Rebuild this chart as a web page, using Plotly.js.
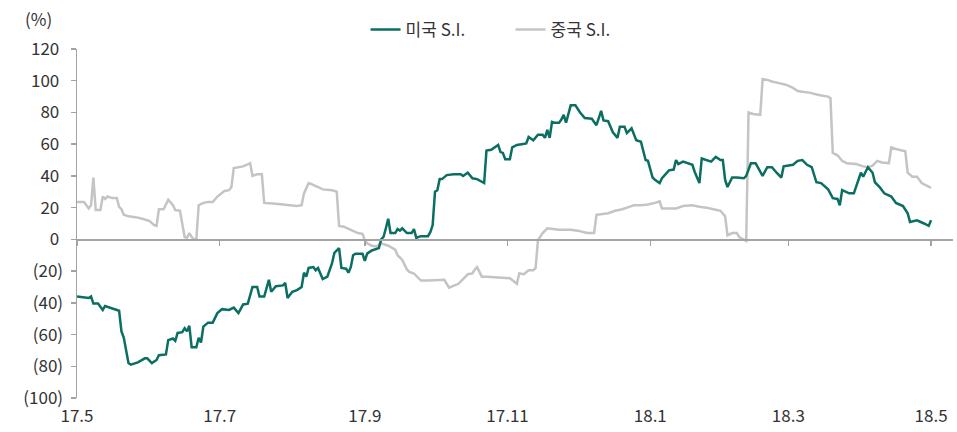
<!DOCTYPE html>
<html>
<head>
<meta charset="utf-8">
<script src="https://cdn.plot.ly/plotly-3.0.1.min.js"></script>
<style>html,body{margin:0;padding:0;background:#fff;}#chart{width:957px;height:432px;}</style>
</head>
<body>
<div id="chart"></div>
<script>
const seriesNames = ["미국 S.I.", "중국 S.I."];

const usDates = ["2017-05-01","2017-05-06","2017-05-07","2017-05-08","2017-05-10","2017-05-12","2017-05-13","2017-05-17","2017-05-19","2017-05-20","2017-05-21","2017-05-23","2017-05-24","2017-05-27","2017-05-30","2017-05-31","2017-06-02","2017-06-04","2017-06-05","2017-06-08","2017-06-09","2017-06-11","2017-06-12","2017-06-13","2017-06-15","2017-06-16","2017-06-17","2017-06-18","2017-06-19","2017-06-21","2017-06-22","2017-06-23","2017-06-24","2017-06-26","2017-06-28","2017-06-30","2017-07-02","2017-07-05","2017-07-07","2017-07-09","2017-07-11","2017-07-13","2017-07-14","2017-07-15","2017-07-17","2017-07-18","2017-07-20","2017-07-22","2017-07-23","2017-07-25","2017-07-28","2017-07-29","2017-07-30","2017-08-01","2017-08-03","2017-08-05","2017-08-06","2017-08-07","2017-08-08","2017-08-10","2017-08-11","2017-08-12","2017-08-14","2017-08-16","2017-08-18","2017-08-19","2017-08-21","2017-08-22","2017-08-24","2017-08-25","2017-08-26","2017-08-27","2017-08-28","2017-08-31","2017-09-01","2017-09-02","2017-09-04","2017-09-07","2017-09-08","2017-09-09","2017-09-10","2017-09-11","2017-09-12","2017-09-14","2017-09-15","2017-09-16","2017-09-17","2017-09-19","2017-09-21","2017-09-22","2017-09-23","2017-09-25","2017-09-28","2017-09-29","2017-09-30","2017-10-01","2017-10-02","2017-10-03","2017-10-04","2017-10-06","2017-10-09","2017-10-12","2017-10-13","2017-10-15","2017-10-17","2017-10-19","2017-10-22","2017-10-23","2017-10-25","2017-10-28","2017-10-29","2017-10-30","2017-10-31","2017-11-02","2017-11-03","2017-11-05","2017-11-07","2017-11-09","2017-11-10","2017-11-12","2017-11-14","2017-11-16","2017-11-17","2017-11-18","2017-11-19","2017-11-20","2017-11-21","2017-11-23","2017-11-24","2017-11-25","2017-11-26","2017-11-28","2017-11-30","2017-12-02","2017-12-04","2017-12-07","2017-12-09","2017-12-11","2017-12-12","2017-12-14","2017-12-16","2017-12-18","2017-12-19","2017-12-21","2017-12-22","2017-12-24","2017-12-26","2017-12-28","2017-12-30","2017-12-31","2018-01-02","2018-01-03","2018-01-05","2018-01-06","2018-01-09","2018-01-11","2018-01-12","2018-01-13","2018-01-15","2018-01-17","2018-01-19","2018-01-20","2018-01-22","2018-01-23","2018-01-25","2018-01-27","2018-01-29","2018-01-31","2018-02-01","2018-02-02","2018-02-03","2018-02-05","2018-02-07","2018-02-10","2018-02-11","2018-02-13","2018-02-15","2018-02-16","2018-02-18","2018-02-20","2018-02-22","2018-02-24","2018-02-26","2018-02-27","2018-03-03","2018-03-05","2018-03-07","2018-03-09","2018-03-11","2018-03-13","2018-03-15","2018-03-18","2018-03-20","2018-03-22","2018-03-23","2018-03-24","2018-03-27","2018-03-29","2018-03-31","2018-04-01","2018-04-02","2018-04-04","2018-04-06","2018-04-07","2018-04-09","2018-04-11","2018-04-14","2018-04-16","2018-04-19","2018-04-20","2018-04-21","2018-04-22","2018-04-25","2018-04-28","2018-04-30","2018-05-01"];
const usValues = [-36,-37,-36,-40.5,-40.5,-44.5,-42,-44,-45,-58,-62,-78,-79,-77.5,-75,-75,-78,-76,-73,-72.5,-63.5,-62.5,-64,-59,-58.5,-56,-58,-54.5,-68,-68,-62,-65,-55,-52.5,-52.5,-46.5,-44,-44.5,-43,-46.5,-41,-40.5,-36,-30,-30,-36,-36,-25.5,-33,-29.5,-29,-27.5,-37,-33,-32,-30,-21,-23.5,-18,-17.5,-19.5,-18,-25,-23.5,-15,-8.5,-5.5,-18,-18.5,-21,-17.5,-10,-9,-9,-13.5,-9,-7,-5.5,0,1.5,7,13,4,4,6.5,5.5,7,4,4,6.5,1,2,2,4.5,9,30,31,38,38,40.5,41,41,40,42,38.5,38,35.5,56,56.5,59.5,55,54.5,50.5,50.5,58,59.5,60,60.5,64.5,62.5,66,66,64,69,64,74,73.5,73.5,75.5,78.5,73.5,84.5,84.5,80,76.5,76,72,81,75,74.5,67.5,64,71,71,67,70,62.5,61.5,50,49.5,39,37.5,35.5,38.5,43.5,44,50,47.5,49,48,47,42.5,35.5,51,50,49,52,50,50,37.5,33,39,39,38.5,40,48,48,45,40,45.5,45.5,42,39,46,47,49.5,50,47,45.5,36,35.5,31.5,26,25.5,21.5,31,29,29,38,42,39.5,45.5,42,36,33,29,27,23,21,18.5,16.5,11,12,10,8.5,12];

const cnDates = ["2017-05-01","2017-05-04","2017-05-06","2017-05-07","2017-05-08","2017-05-09","2017-05-11","2017-05-12","2017-05-13","2017-05-14","2017-05-16","2017-05-18","2017-05-19","2017-05-20","2017-05-21","2017-05-23","2017-05-26","2017-05-29","2017-06-01","2017-06-03","2017-06-04","2017-06-05","2017-06-07","2017-06-09","2017-06-11","2017-06-12","2017-06-14","2017-06-16","2017-06-17","2017-06-18","2017-06-19","2017-06-20","2017-06-21","2017-06-22","2017-06-24","2017-06-26","2017-06-28","2017-06-30","2017-07-03","2017-07-05","2017-07-06","2017-07-07","2017-07-11","2017-07-13","2017-07-14","2017-07-15","2017-07-17","2017-07-19","2017-07-20","2017-07-25","2017-07-30","2017-08-03","2017-08-05","2017-08-06","2017-08-08","2017-08-09","2017-08-12","2017-08-14","2017-08-18","2017-08-20","2017-08-21","2017-08-23","2017-08-26","2017-08-29","2017-08-31","2017-09-01","2017-09-02","2017-09-04","2017-09-06","2017-09-08","2017-09-11","2017-09-14","2017-09-15","2017-09-17","2017-09-19","2017-09-20","2017-09-22","2017-09-23","2017-09-25","2017-09-28","2017-10-02","2017-10-05","2017-10-07","2017-10-09","2017-10-11","2017-10-13","2017-10-14","2017-10-15","2017-10-17","2017-10-18","2017-10-19","2017-10-21","2017-10-23","2017-10-29","2017-11-02","2017-11-05","2017-11-06","2017-11-08","2017-11-10","2017-11-12","2017-11-13","2017-11-14","2017-11-16","2017-11-18","2017-11-20","2017-11-23","2017-11-28","2017-12-01","2017-12-05","2017-12-08","2017-12-09","2017-12-11","2017-12-14","2017-12-17","2017-12-20","2017-12-23","2017-12-25","2017-12-28","2017-12-31","2018-01-03","2018-01-05","2018-01-06","2018-01-12","2018-01-15","2018-01-19","2018-01-22","2018-01-25","2018-01-28","2018-01-31","2018-02-02","2018-02-03","2018-02-05","2018-02-07","2018-02-08","2018-02-11","2018-02-12","2018-02-14","2018-02-17","2018-02-18","2018-02-20","2018-02-22","2018-02-25","2018-02-28","2018-03-03","2018-03-05","2018-03-07","2018-03-10","2018-03-14","2018-03-18","2018-03-19","2018-03-20","2018-03-22","2018-03-24","2018-03-26","2018-03-30","2018-04-02","2018-04-04","2018-04-06","2018-04-08","2018-04-10","2018-04-13","2018-04-14","2018-04-16","2018-04-20","2018-04-21","2018-04-23","2018-04-25","2018-04-27","2018-04-29","2018-05-01"];
const cnValues = [23.5,23.5,19.5,21.5,39,18.5,18.5,27,25.5,27,26,26,20.5,19,15.5,14.5,14,13,11.5,9,8.5,19,19,25,21.5,18.5,18,1.5,1,4,1.5,0,0,21.5,23,23.5,23.5,27,30.5,31,33,45,46,47,48,40,41,41,23,22.5,21.5,21,21.5,29,35.5,35,33,31.5,31,30,8.5,8,6,4,3.5,-0.5,-2.5,-4,-4.5,-2.5,-4,-6.5,-10,-13,-19,-20.5,-21.5,-23,-26,-26,-25.5,-25.5,-30.5,-29,-28,-25,-23.5,-22,-21.5,-19,-17.5,-23.5,-23.5,-24,-24.5,-28,-21.5,-22,-19.5,-19.5,-18,-0.5,4,7,6.5,6,6,5.5,4,4,15.5,16,16.5,18,19,20.5,21.5,21.5,22,23,24,19.5,19.5,21,21.5,20.5,20,19,18,14.5,2.5,4,4,1.5,-1,80,79,78.5,101,100.5,99.5,98.5,97.5,95.5,93.5,93,92.5,91,90,89,54.5,53,49.5,48,47.5,46,45.5,46.5,49.5,48.5,48,58,57,55.5,42,39.5,39.5,35.5,34,32.5];

const xTickVals = ["2017-05-01","2017-07-01","2017-09-01","2017-11-01","2018-01-01","2018-03-01","2018-05-01"];
const xTickText = ["17.5","17.7","17.9","17.11","18.1","18.3","18.5"];
const yTickVals = [-100,-80,-60,-40,-20,0,20,40,60,80,100,120];
const yTickText = ["(100)","(80)","(60)","(40)","(20)","0\u00a0","20\u00a0","40\u00a0","60\u00a0","80\u00a0","100\u00a0","120\u00a0"];

const FONT = '"Noto Sans CJK KR", "Noto Sans", sans-serif';
const FS = 17;
const AXIS_GRAY = '#a3a3a3';

const traces = [
  {x: cnDates, y: cnValues, name: seriesNames[1], type: 'scatter', mode: 'lines',
   line: {color: '#c4c4c4', width: 2.5}, xaxis: 'x', yaxis: 'y'},
  {x: usDates, y: usValues, name: seriesNames[0], type: 'scatter', mode: 'lines',
   line: {color: '#0a6e61', width: 2.5}, xaxis: 'x2', yaxis: 'y'}
];

const layout = {
  width: 957, height: 432,
  margin: {l: 77, r: 4, t: 49, b: 34},
  paper_bgcolor: '#fff', plot_bgcolor: '#fff',
  font: {family: FONT, size: FS, color: '#333'},
  showlegend: true,
  legend: {orientation: 'h', traceorder: 'reversed', xref: 'container', yref: 'container',
           x: 0.382, xanchor: 'left', y: 1 - 30/432, yanchor: 'middle',
           entrywidth: 100, entrywidthmode: 'pixels',
           font: {family: FONT, size: FS, color: '#333'}, bgcolor: 'rgba(0,0,0,0)'},
  xaxis: {type: 'date', range: ['2017-05-01', '2018-05-10 09:00'],
          tickmode: 'array', tickvals: xTickVals, ticktext: xTickText,
          showline: false, ticks: '', showgrid: false, zeroline: false,
          ticklabelstandoff: 6,
          tickfont: {family: FONT, size: FS, color: '#333'}},
  xaxis2: {type: 'date', overlaying: 'x', matches: 'x', anchor: 'free', position: 100/220,
           tickmode: 'array', tickvals: xTickVals, showticklabels: false,
           showline: true, linecolor: AXIS_GRAY, linewidth: 1.5,
           ticks: 'outside', ticklen: 5, tickcolor: AXIS_GRAY, tickwidth: 1.5,
           showgrid: false, zeroline: false},
  yaxis: {range: [-100, 120], tickmode: 'array', tickvals: yTickVals, ticktext: yTickText,
          showline: true, linecolor: AXIS_GRAY, linewidth: 1.5,
          ticks: 'outside', ticklen: 5, tickcolor: AXIS_GRAY, tickwidth: 1.5,
          showgrid: false, zeroline: false, ticklabelstandoff: 4,
          tickfont: {family: FONT, size: FS, color: '#333'}},
  annotations: [{text: '(%)', xref: 'paper', yref: 'paper', x: -0.026, y: 1 + 30/349,
                 xanchor: 'right', yanchor: 'middle', showarrow: false,
                 font: {family: FONT, size: FS, color: '#333'}}]
};

Plotly.newPlot('chart', traces, layout, {displayModeBar: false, staticPlot: true});
</script>
</body>
</html>
